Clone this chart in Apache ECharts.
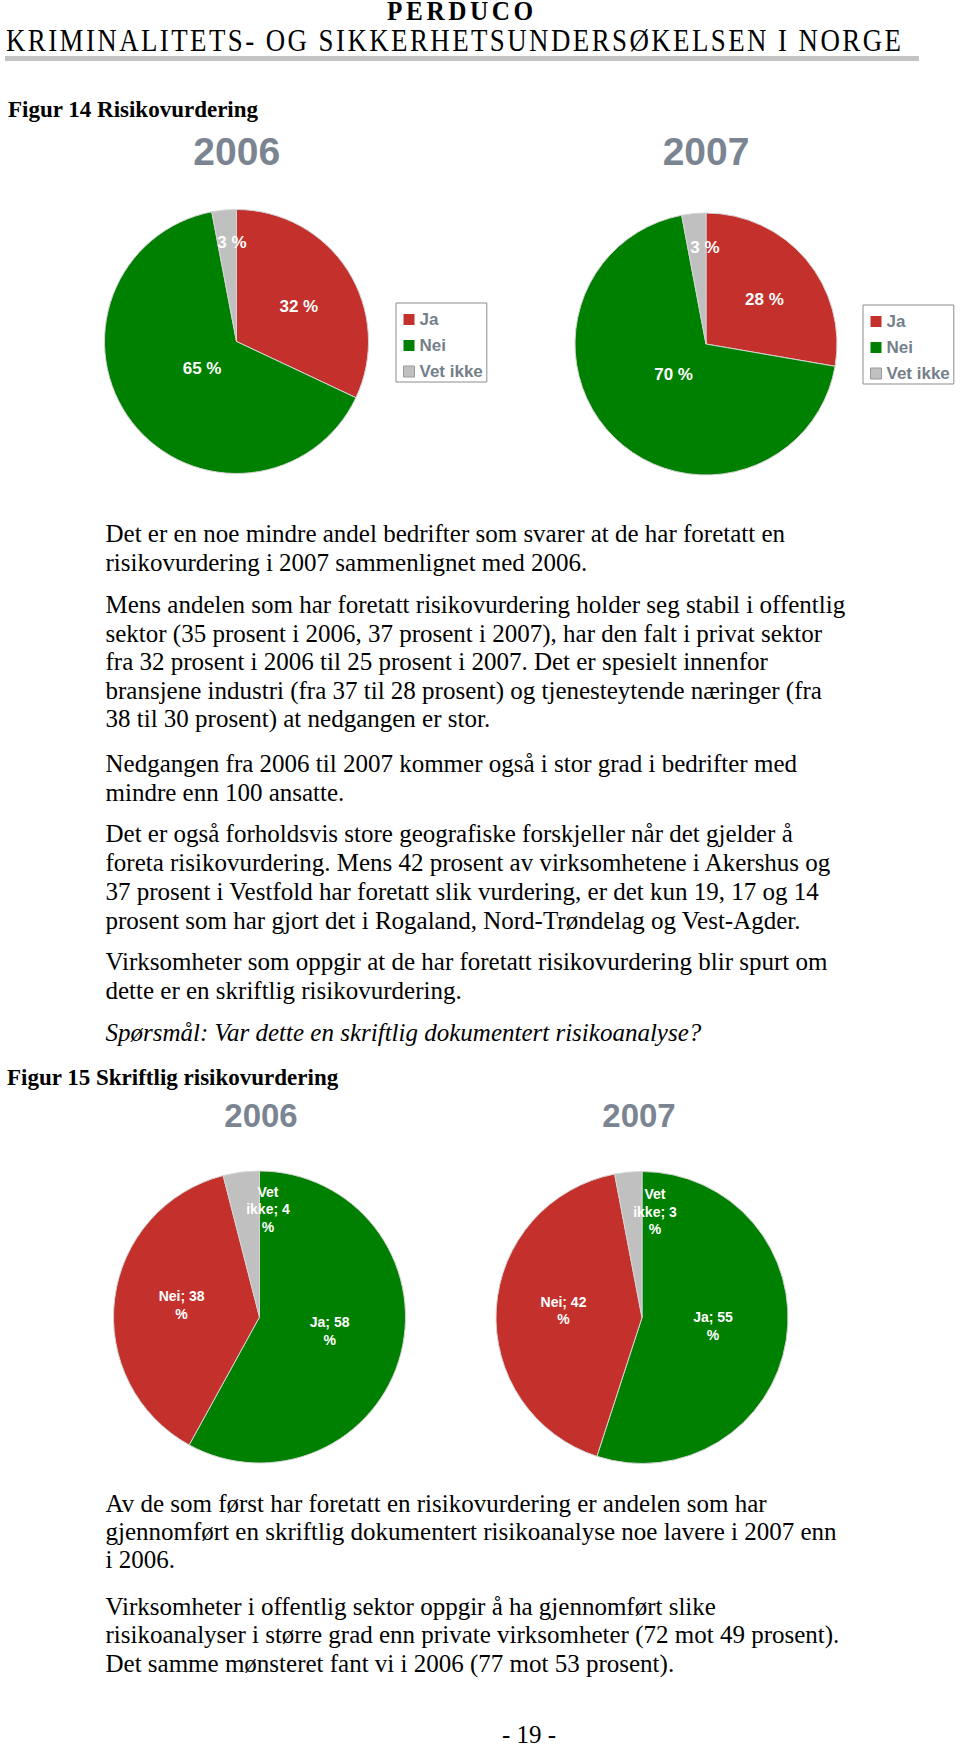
<!DOCTYPE html>
<html>
<head>
<meta charset="utf-8">
<script src="https://cdn.jsdelivr.net/npm/echarts@6/dist/echarts.min.js"></script>
<style>
html,body{margin:0;padding:0;background:#fff;}
#page{position:relative;width:960px;height:1747px;overflow:hidden;background:#fff;}
#chart{position:absolute;left:0;top:0;width:960px;height:1747px;}
.ln{position:absolute;white-space:nowrap;font-family:"Liberation Serif","Times New Roman",serif;color:#000;transform-origin:0 0;}
#rule{position:absolute;left:5px;top:56px;width:914px;height:5px;background:#c3c3c3;}
</style>
</head>
<body>
<div id="page"><div id="chart"></div><div id="rule"></div></div>
<script>
// ---- chart data ----
const categories = ['Ja', 'Nei', 'Vet ikke'];
const years = ['2006', '2007'];
const fig14_2006 = [32, 65, 3];
const fig14_2007 = [28, 70, 3];
const fig15_2006 = [58, 38, 4];
const fig15_2007 = [55, 42, 3];

// ---- page text ----
const bodyLines = [
  ['Det er en noe mindre andel bedrifter som svarer at de har foretatt en', 542],
  ['risikovurdering i 2007 sammenlignet med 2006.', 571],
  ['Mens andelen som har foretatt risikovurdering holder seg stabil i offentlig', 613],
  ['sektor (35 prosent i 2006, 37 prosent i 2007), har den falt i privat sektor', 642],
  ['fra 32 prosent i 2006 til 25 prosent i 2007. Det er spesielt innenfor', 670],
  ['bransjene industri (fra 37 til 28 prosent) og tjenesteytende næringer (fra', 698.5],
  ['38 til 30 prosent) at nedgangen er stor.', 727],
  ['Nedgangen fra 2006 til 2007 kommer også i stor grad i bedrifter med', 772],
  ['mindre enn 100 ansatte.', 800.5],
  ['Det er også forholdsvis store geografiske forskjeller når det gjelder å', 842],
  ['foreta risikovurdering. Mens 42 prosent av virksomhetene i Akershus og', 871],
  ['37 prosent i Vestfold har foretatt slik vurdering, er det kun 19, 17 og 14', 900],
  ['prosent som har gjort det i Rogaland, Nord-Trøndelag og Vest-Agder.', 929],
  ['Virksomheter som oppgir at de har foretatt risikovurdering blir spurt om', 970],
  ['dette er en skriftlig risikovurdering.', 999],
  ['Av de som først har foretatt en risikovurdering er andelen som har', 1512],
  ['gjennomført en skriftlig dokumentert risikoanalyse noe lavere i 2007 enn', 1540],
  ['i 2006.', 1568],
  ['Virksomheter i offentlig sektor oppgir å ha gjennomført slike', 1615],
  ['risikoanalyser i større grad enn private virksomheter (72 mot 49 prosent).', 1643],
  ['Det samme mønsteret fant vi i 2006 (77 mot 53 prosent).', 1672]
];

const page = document.getElementById('page');
// place a single text line by its baseline (Liberation Serif metrics: ascent .891, descent .216)
function addLine(text, x, baseline, size, extra, lh) {
  lh = lh || 1;
  const d = document.createElement('div');
  d.className = 'ln';
  d.textContent = text;
  d.style.fontSize = size + 'px';
  d.style.lineHeight = String(lh);
  d.style.left = x + 'px';
  d.style.top = (baseline - (0.891 + (lh - 1.107) / 2) * size) + 'px';
  if (extra) Object.assign(d.style, extra);
  page.appendChild(d);
  return d;
}
addLine('PERDUCO', 387, 20, 28, {fontWeight: 'bold', letterSpacing: '4px', transform: 'scaleX(0.9)'}, 0.7);
addLine('KRIMINALITETS- OG SIKKERHETSUNDERSØKELSEN I NORGE', 6, 51, 32, {letterSpacing: '2.9px', transform: 'scaleX(0.84)'}, 0.7);
addLine('Figur 14 Risikovurdering', 8, 117, 23, {fontWeight: 'bold'});
addLine('Figur 15 Skriftlig risikovurdering', 7, 1085, 23, {fontWeight: 'bold'});
bodyLines.forEach(l => addLine(l[0], 105.5, l[1], 25));
addLine('Spørsmål: Var dette en skriftlig dokumentert risikoanalyse?', 105.5, 1041, 25, {fontStyle: 'italic'});
const pn = addLine('- 19 -', 0, 1744, 25, null, 0.75);
pn.style.left = (529 - pn.offsetWidth / 2) + 'px';

// ---- chart ----
const RED = '#c4302b', GREEN = '#008000', GRAY = '#c0c0c0';
const colors14 = [RED, GREEN, GRAY];
const colors15 = [GREEN, RED, GRAY];
const SANS = '"Liberation Sans", Arial, Helvetica, sans-serif';
const TITLE_COLOR = '#7a8591';

function labelPositions(values, cx, cy, r, fracs, shifts) {
  const total = values.reduce((a, b) => a + b, 0);
  let cum = 0;
  return values.map((v, i) => {
    const mid = (cum + v / 2) / total * 360 + shifts[i];
    cum += v;
    const a = mid * Math.PI / 180;
    return [cx + fracs[i] * r * Math.sin(a), cy - fracs[i] * r * Math.cos(a)];
  });
}

function pie(values, colors, cx, cy, r, fracs, shifts, labelOpt) {
  const pos = labelPositions(values, cx, cy, r, fracs, shifts);
  return {
    type: 'pie',
    center: [cx, cy],
    radius: r,
    startAngle: 90,
    clockwise: true,
    silent: true,
    animation: false,
    avoidLabelOverlap: false,
    data: categories.map((c, i) => ({name: c, value: values[i], itemStyle: {color: colors[i]}})),
    itemStyle: {borderColor: '#d4d4d4', borderWidth: 1},
    label: Object.assign({show: true, position: 'inside', color: '#fff', fontWeight: 'bold', fontFamily: SANS}, labelOpt),
    labelLine: {show: false},
    emphasis: {disabled: true},
    labelLayout: p => ({x: pos[p.dataIndex][0], y: pos[p.dataIndex][1]})
  };
}

const fig15Label = {
  fontSize: 14,
  lineHeight: 17.5,
  align: 'center',
  formatter: p => p.name.replace(' ', '\n') + '; ' + p.value + '\n%'
};

function legend(left, top) {
  return {
    orient: 'vertical',
    left: left,
    top: top,
    icon: 'rect',
    itemWidth: 11,
    itemHeight: 11,
    itemGap: 9,
    padding: [8, 4, 2, 7],
    borderColor: '#8c8c8c',
    borderWidth: 1,
    selectedMode: false,
    textStyle: {fontSize: 17, fontWeight: 'bold', color: '#747f8a', fontFamily: SANS},
    data: categories.map((c, i) => ({
      name: c,
      itemStyle: {color: colors14[i], borderWidth: i === 2 ? 1 : 0, borderColor: '#9a9a9a'}
    }))
  };
}

function yearTitle(text, x, y, size) {
  return {
    type: 'text', x: x, y: y, silent: true,
    style: {text: text, fontSize: size, fontWeight: 'bold', fontFamily: SANS, fill: TITLE_COLOR, align: 'center', verticalAlign: 'middle'}
  };
}

const chart = echarts.init(document.getElementById('chart'), null, {renderer: 'svg', width: 960, height: 1747});
chart.setOption({
  animation: false,
  backgroundColor: 'transparent',
  tooltip: {show: false},
  legend: [legend(396, 303), legend(863, 305)],
  graphic: [
    yearTitle(years[0], 236.7, 151.5, 39),
    yearTitle(years[1], 706, 151, 39),
    yearTitle(years[0], 261, 1115, 33),
    yearTitle(years[1], 639, 1115, 33)
  ],
  series: [
    pie(fig14_2006, colors14, 236.5, 341.5, 132, [0.54, 0.33, 0.75], [3.4, 0, 2.8], {fontSize: 17, formatter: '{c} %'}),
    pie(fig14_2007, colors14, 706, 344, 131, [0.56, 0.34, 0.74], [2.9, 2.2, 4.7], {fontSize: 17, formatter: '{c} %'}),
    pie(fig15_2006, colors15, 259.5, 1317, 146, [0.49, 0.54, 0.74], [-3, 1.6, 11.7], fig15Label),
    pie(fig15_2007, colors15, 642, 1317.5, 146, [0.49, 0.54, 0.73], [-2.2, 1.6, 12.4], fig15Label)
  ]
});
</script>
</body>
</html>
